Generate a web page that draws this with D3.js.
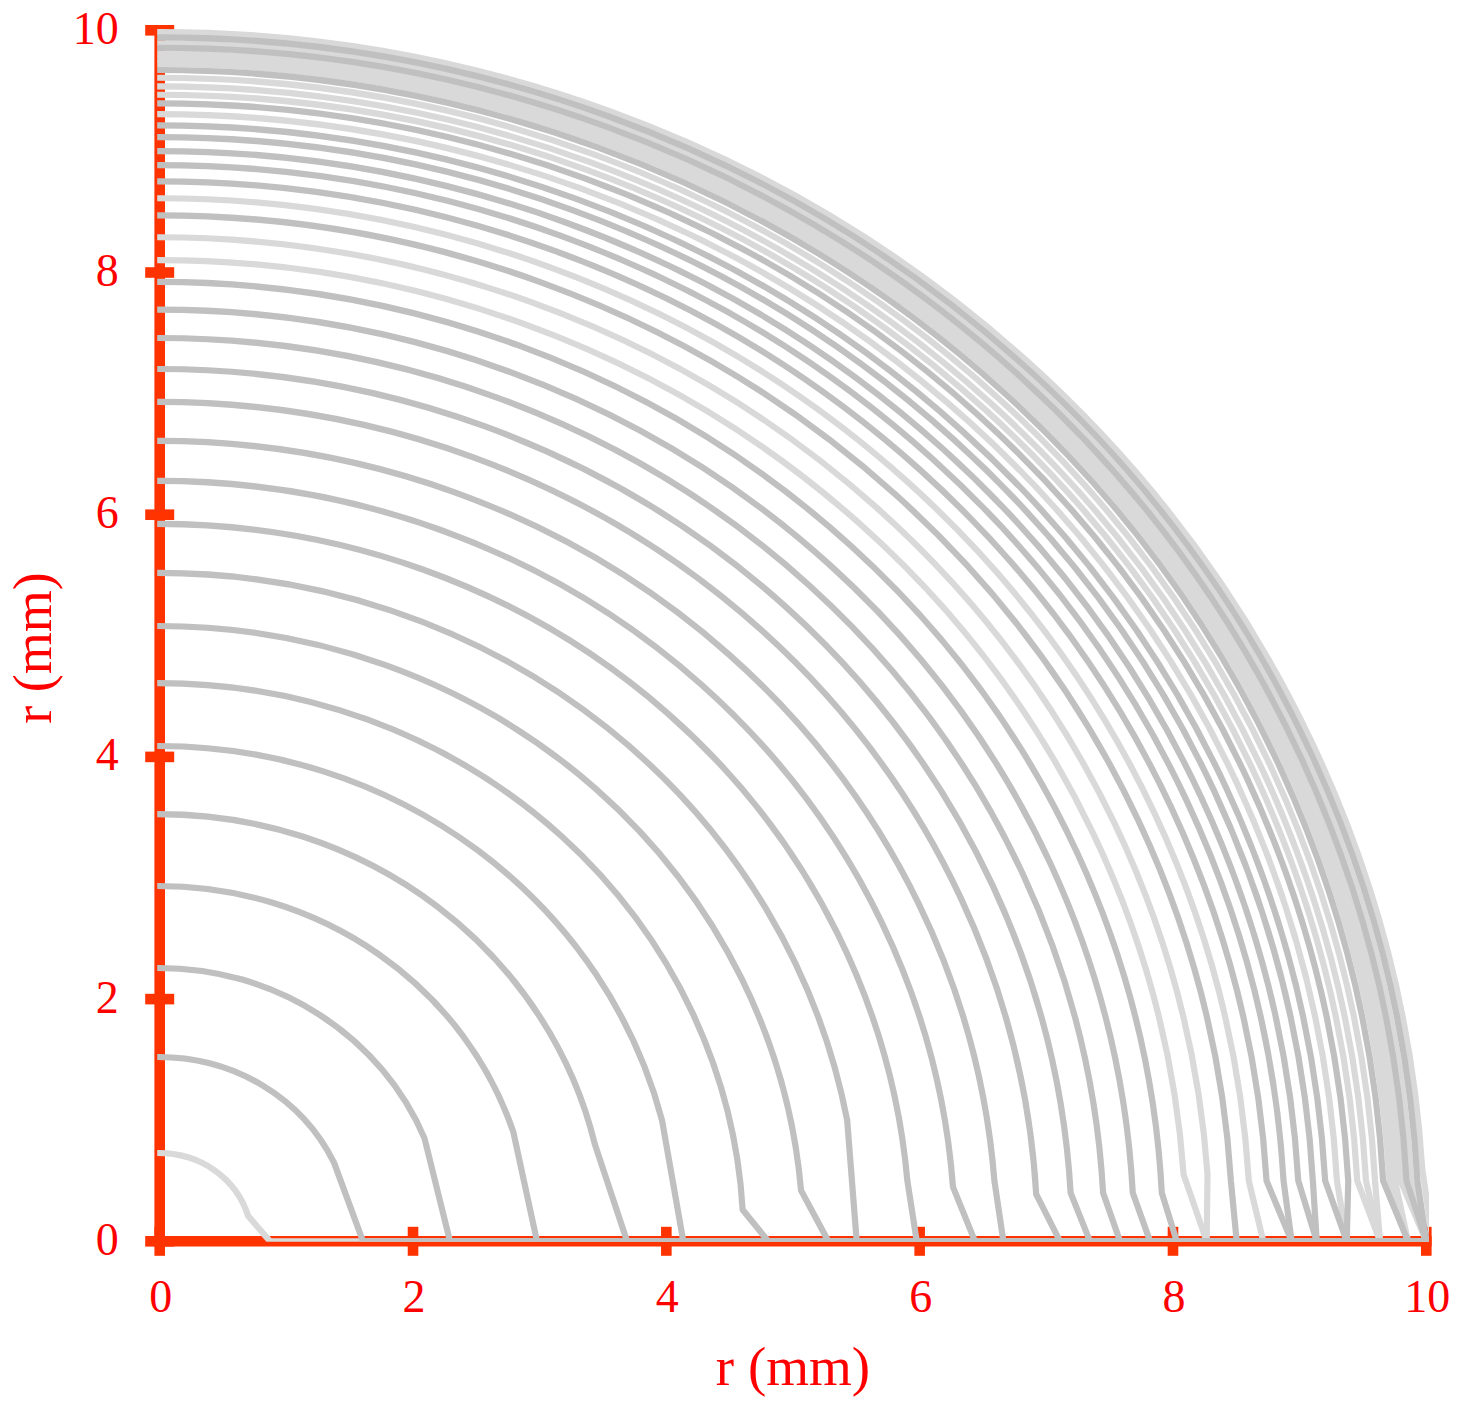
<!DOCTYPE html>
<html><head><meta charset="utf-8">
<script src="https://cdn.jsdelivr.net/npm/d3@7"></script>
<style>html,body{margin:0;padding:0;background:#fff;}</style>
</head><body>
<svg id="chart" width="1471" height="1410"></svg>
<script>
// contour start on the vertical axis (mm), inner -> outer
const startY = [0.729, 1.522, 2.257, 2.934, 3.528, 4.090, 4.610, 5.081, 5.519, 5.924,
                6.279, 6.609, 6.931, 7.203, 7.459, 7.693, 7.922, 8.103, 8.291, 8.472,
                8.613, 8.753, 8.887, 9.003, 9.118, 9.215, 9.308, 9.397, 9.468, 9.537,
                9.608, 9.672, 9.722, 9.765, 9.810, 9.856, 9.893, 9.942, 9.986];
// contour end on the horizontal axis (mm)
const endX   = [0.871, 1.605, 2.292, 2.979, 3.690, 4.134, 4.805, 5.279, 5.503, 5.977,
                6.437, 6.661, 7.108, 7.345, 7.582, 7.819, 8.030, 8.266, 8.266, 8.503,
                8.713, 8.937, 8.937, 9.135, 9.135, 9.372, 9.372, 9.372, 9.635, 9.635,
                9.635, 9.856, 9.856, 9.856, 10.0, 10.0, 10.0, 10.0, 10.05];
// height of the last bend before the contour meets the horizontal axis (mm)
const bendY  = [0.21, 0.65, 0.85, 0.9, 0.8, 1.0, 0.26, 0.42, 1.0, 0.5,
                0.45, 0.5, 0.39, 0.4, 0.4, 0.4, 0.4, 0.55, 0.55, 0.5,
                0.5, 0.5, 0.5, 0.5, 0.5, 0.5, 0.5, 0.5, 0.5, 0.5,
                0.5, 0.5, 0.5, 0.5, 0.5, 0.5, 0.5, 0.5, 0.6];
// series of each contour
const series = ["light","dark","dark","dark","dark","dark","dark","dark","dark","dark",
                "dark","dark","dark","dark","dark","dark","dark","light","light","dark",
                "light","dark","dark","dark","dark","dark","light","dark","light","light",
                "light","dark","light","light","light","dark","light","dark","light"];
const xTicks = [0, 2, 4, 6, 8, 10];
const yTicks = [0, 2, 4, 6, 8, 10];
const xTitle = "r (mm)";
const yTitle = "r (mm)";

const svg = d3.select("#chart");
const x = d3.scaleLinear().domain([0, 10]).range([159.7, 1426.3]);
const y = d3.scaleLinear().domain([0, 10]).range([1241.3, 30.3]);
const color = d3.scaleOrdinal().domain(["light", "dark"]).range(["#d9d9d9", "#c0c0c0"]);

const AX = "#ff3300", TXT = "#ff0000", FONT = "'Liberation Serif', 'Times New Roman', serif";

// axes
const axG = svg.append("g");
axG.append("line").attr("x1", x(0)).attr("x2", x(0)).attr("y1", y(10)).attr("y2", y(0))
  .attr("stroke", AX).attr("stroke-width", 10.6).attr("stroke-linecap", "square");
axG.append("line").attr("x1", x(0)).attr("x2", x(10)).attr("y1", y(0)).attr("y2", y(0))
  .attr("stroke", AX).attr("stroke-width", 10.6).attr("stroke-linecap", "square");
axG.selectAll(".yt").data(yTicks).join("line").attr("class", "yt")
  .attr("x1", x(0) - 14.5).attr("x2", x(0) + 14.5).attr("y1", d => y(d)).attr("y2", d => y(d))
  .attr("stroke", AX).attr("stroke-width", 10.6);
axG.selectAll(".xt").data(xTicks).join("line").attr("class", "xt")
  .attr("x1", d => x(d)).attr("x2", d => x(d)).attr("y1", y(0) - 14.5).attr("y2", y(0) + 14.5)
  .attr("stroke", AX).attr("stroke-width", 10.6);

axG.selectAll(".yl").data(yTicks).join("text").attr("class", "yl")
  .attr("x", x(0) - 41).attr("y", d => y(d) + 13.5)
  .attr("text-anchor", "end").attr("fill", TXT)
  .style("font-family", FONT).style("font-size", "46px").text(d => d);
axG.selectAll(".xl").data(xTicks).join("text").attr("class", "xl")
  .attr("x", d => x(d) + 1).attr("y", 1312)
  .attr("text-anchor", "middle").attr("fill", TXT)
  .style("font-family", FONT).style("font-size", "46px").text(d => d);

axG.append("text").attr("x", x(5)).attr("y", 1385).attr("text-anchor", "middle")
  .attr("fill", TXT).style("font-family", FONT).style("font-size", "55px").text(xTitle);
axG.append("text").attr("transform", `translate(51,${(y(4.9))}) rotate(-90)`)
  .attr("text-anchor", "middle")
  .attr("fill", TXT).style("font-family", FONT).style("font-size", "54px").text(yTitle);

// contours
svg.append("clipPath").attr("id", "plotclip").append("rect")
  .attr("x", x(0) - 2.5).attr("y", 0)
  .attr("width", x(10) + 2.7 - (x(0) - 2.5)).attr("height", y(0) + 0.4);

const curves = startY.map((a, i) => ({a, b: endX[i], k: Math.min(bendY[i], a * 0.95), s: series[i], i}));
const order = curves.filter(c => c.s === "light").concat(curves.filter(c => c.s === "dark"));

function contourPath(c) {
  const rx = x(c.a) - x(0), ry = y(0) - y(c.a);
  const xk = Math.sqrt(c.a * c.a - c.k * c.k);
  const p = d3.path();
  p.moveTo(x(0), y(c.a));
  let s = p.toString();
  s += ` A${rx},${ry} 0 0 1 ${x(xk)},${y(c.k)}`;
  s += ` L${x(c.b)},${y(0)} L${x(10)},${y(0)}`;
  return s;
}

svg.append("g").attr("clip-path", "url(#plotclip)")
  .selectAll("path").data(order).join("path")
  .attr("d", contourPath)
  .attr("fill", "none")
  .attr("stroke", d => color(d.s))
  .attr("stroke-width", 6.2)
  .attr("stroke-linejoin", "miter")
  .attr("stroke-linecap", "square");
</script>
</body></html>
